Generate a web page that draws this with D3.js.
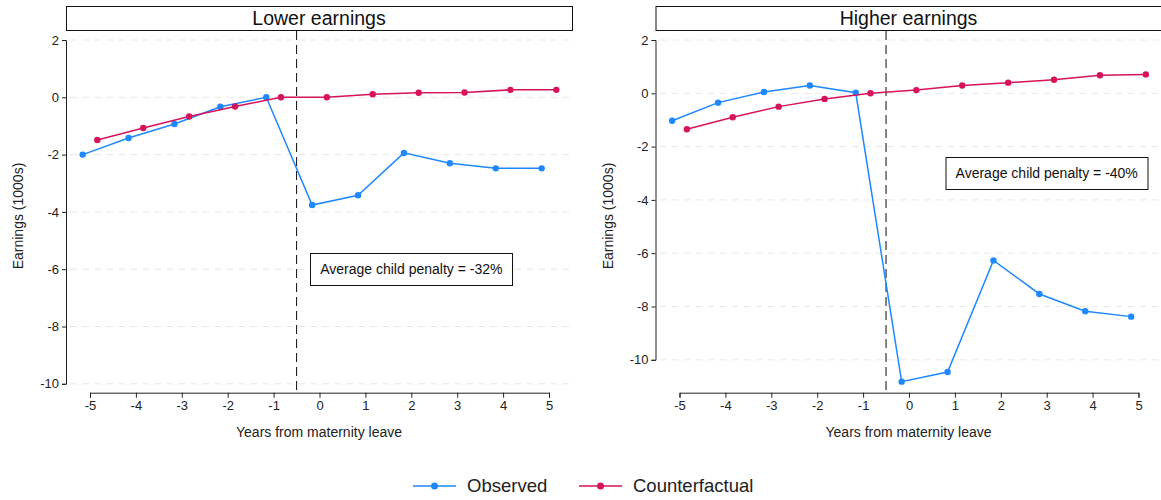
<!doctype html>
<html lang="en">
  <head>
    <meta charset="UTF-8" />
    <title>Child penalty by earnings group</title>
    <script src="https://d3js.org/d3.v7.min.js"></script>
    <style>
      body {
        margin: 0;
        padding: 0;
        background-color: white;
        font-family: Arial, 'Liberation Sans', sans-serif;
      }

      .tick text {
        font-size: 13px;
        fill: #222;
      }

      .tick line,
      .domain {
        stroke: #222;
      }

      .grid line {
        stroke: #e8e8e8;
        stroke-dasharray: 7 5;
      }

      .panel-title {
        font-size: 19.5px;
        fill: #111;
      }

      .axis-title {
        font-size: 14px;
        fill: #222;
      }

      .note {
        font-size: 14px;
        fill: #111;
      }

      .legend-item {
        font-size: 18.5px;
        fill: #222;
      }
    </style>
  </head>
  <body>
    <div id="chart"></div>

    <script>
      // Years relative to maternity leave
      const years = [-5, -4, -3, -2, -1, 0, 1, 2, 3, 4, 5]

      // Earnings (1000s), lower earnings group
      const lowerObserved = [-2.0, -1.42, -0.93, -0.33, 0.0, -3.76, -3.42, -1.94, -2.3, -2.48, -2.48]
      const lowerCounterfactual = [-1.49, -1.07, -0.67, -0.32, 0.0, 0.0, 0.11, 0.16, 0.17, 0.26, 0.26]

      // Earnings (1000s), higher earnings group
      const higherObserved = [-1.03, -0.35, 0.05, 0.29, 0.02, -10.82, -10.46, -6.27, -7.53, -8.18, -8.38]
      const higherCounterfactual = [-1.35, -0.9, -0.5, -0.21, 0.0, 0.12, 0.29, 0.4, 0.51, 0.68, 0.71]

      const yTicks = [2, 0, -2, -4, -6, -8, -10]
      const xTicks = [-5, -4, -3, -2, -1, 0, 1, 2, 3, 4, 5]

      const seriesNames = ['Observed', 'Counterfactual']
      const colors = { Observed: '#1e88ff', Counterfactual: '#d6135b' }
      const dodge = { Observed: -0.16, Counterfactual: 0.16 }

      const panels = [
        {
          title: 'Lower earnings',
          observed: lowerObserved,
          counterfactual: lowerCounterfactual,
          penalty: 'Average child penalty = -32%',
          noteAt: [2, -6],
          ox: 0,
          yBottom: 383.8,
          dashColor: '#222',
          dashWidth: 1.1,
        },
        {
          title: 'Higher earnings',
          observed: higherObserved,
          counterfactual: higherCounterfactual,
          penalty: 'Average child penalty = -40%',
          noteAt: [3, -3],
          ox: 589.5,
          yBottom: 359.8,
          dashColor: '#666',
          dashWidth: 1.6,
        },
      ]

      const svg = d3.select('#chart').append('svg').attr('width', 1161).attr('height', 500)

      // Layout of one panel (relative to its left offset)
      const axisX = 66
      const boxRight = 572
      const axisY = 392.7
      const plotTop = 40

      // plain hyphen for negatives, like the original
      const fmt = (d) => String(d)

      function drawPanel(p) {
        const g = svg.append('g').attr('transform', `translate(${p.ox}, 0)`)

        const x = d3.scaleLinear().domain([-5, 5]).range([90, 549])
        const y = d3.scaleLinear().domain([-10, 2]).range([p.yBottom, plotTop])

        // Title strip
        g.append('rect')
          .attr('x', axisX + 0.5)
          .attr('y', 6.5)
          .attr('width', boxRight - axisX)
          .attr('height', 24)
          .attr('fill', 'white')
          .attr('stroke', '#111')
          .attr('stroke-width', 1)

        g.append('text')
          .attr('class', 'panel-title')
          .attr('x', (axisX + boxRight) / 2)
          .attr('y', 18.5)
          .attr('dy', '0.35em')
          .attr('text-anchor', 'middle')
          .text(p.title)

        // Gridlines
        g.append('g')
          .attr('class', 'grid')
          .selectAll('line')
          .data(yTicks)
          .join('line')
          .attr('x1', axisX + 4)
          .attr('x2', boxRight)
          .attr('y1', (d) => y(d))
          .attr('y2', (d) => y(d))

        // Y axis
        g.append('g')
          .attr('transform', `translate(${axisX}, 0)`)
          .call(d3.axisLeft(y).tickValues(yTicks).tickSize(4).tickPadding(3).tickFormat(fmt))

        // X axis
        g.append('g')
          .attr('transform', `translate(0, ${axisY})`)
          .call(d3.axisBottom(x).tickValues(xTicks).tickSize(5).tickPadding(3).tickFormat(fmt))

        // Axis titles
        g.append('text')
          .attr('class', 'axis-title')
          .attr('transform', `translate(18.5, 216) rotate(-90)`)
          .attr('text-anchor', 'middle')
          .attr('dy', '0.35em')
          .text('Earnings (1000s)')

        g.append('text')
          .attr('class', 'axis-title')
          .attr('x', (axisX + boxRight) / 2)
          .attr('y', 432)
          .attr('dy', '0.35em')
          .attr('text-anchor', 'middle')
          .text('Years from maternity leave')

        // Event line between -1 and 0
        g.append('line')
          .attr('x1', x(-0.5))
          .attr('x2', x(-0.5))
          .attr('y1', 31)
          .attr('y2', axisY)
          .attr('stroke', p.dashColor)
          .attr('stroke-width', p.dashWidth)
          .attr('stroke-dasharray', '9 5')

        // Series
        const series = [
          { name: 'Observed', values: p.observed },
          { name: 'Counterfactual', values: p.counterfactual },
        ]

        series.forEach((s) => {
          const pts = years.map((yr, i) => ({ year: yr, value: s.values[i] }))
          const line = d3
            .line()
            .x((d) => x(d.year + dodge[s.name]))
            .y((d) => y(d.value))

          g.append('path')
            .datum(pts)
            .attr('fill', 'none')
            .attr('stroke', colors[s.name])
            .attr('stroke-width', 1.5)
            .attr('d', line)

          g.selectAll(null)
            .data(pts)
            .join('circle')
            .attr('cx', (d) => x(d.year + dodge[s.name]))
            .attr('cy', (d) => y(d.value))
            .attr('r', 3.2)
            .attr('fill', colors[s.name])
        })

        // Penalty note
        const note = g.append('g')
        const noteText = note
          .append('text')
          .attr('class', 'note')
          .attr('x', x(p.noteAt[0]))
          .attr('y', y(p.noteAt[1]))
          .attr('dy', '0.35em')
          .attr('text-anchor', 'middle')
          .text(p.penalty)

        const bb = noteText.node().getBBox()
        note
          .insert('rect', 'text')
          .attr('x', Math.round(bb.x - 10) + 0.5)
          .attr('y', Math.round(y(p.noteAt[1]) - 16) + 0.5)
          .attr('width', Math.round(bb.width + 20))
          .attr('height', 32)
          .attr('fill', 'white')
          .attr('stroke', '#111')
          .attr('stroke-width', 1)
      }

      panels.forEach(drawPanel)

      // Legend
      const legend = svg.append('g').attr('transform', 'translate(413, 486)')
      const legendX = { Observed: 0, Counterfactual: 166 }

      seriesNames.forEach((name) => {
        const item = legend.append('g').attr('transform', `translate(${legendX[name]}, 0)`)
        item
          .append('line')
          .attr('x1', 0)
          .attr('x2', 43)
          .attr('stroke', colors[name])
          .attr('stroke-width', 1.5)
        item.append('circle').attr('cx', 21.5).attr('r', 3.5).attr('fill', colors[name])
        item
          .append('text')
          .attr('class', 'legend-item')
          .attr('x', 54)
          .attr('dy', '0.35em')
          .text(name)
      })
    </script>
  </body>
</html>
